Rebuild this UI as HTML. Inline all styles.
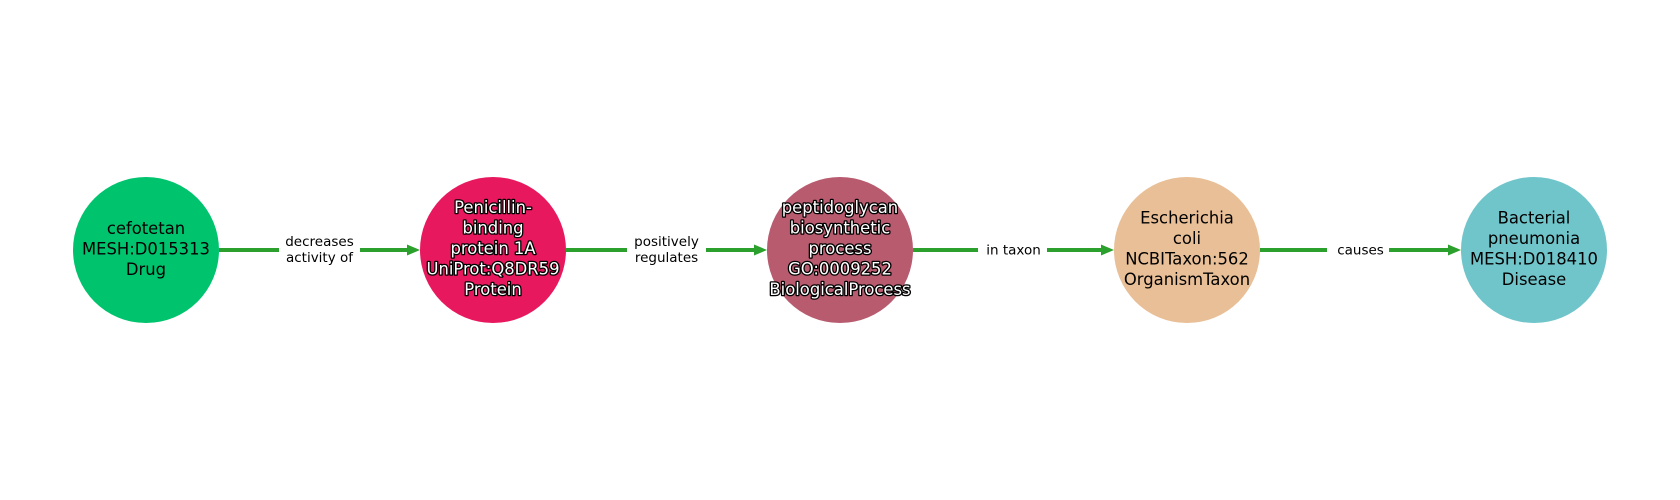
<!DOCTYPE html>
<html><head><meta charset="utf-8"><style>
html,body{margin:0;padding:0;background:#fff;}
svg{display:block;}
.n{font-family:"DejaVu Sans","Liberation Sans",sans-serif;font-size:16.4px;text-anchor:middle;fill:#000;}
.o{fill:#fff;stroke:#000;stroke-width:2.6px;paint-order:stroke;stroke-linejoin:round;}
.e{font-family:"DejaVu Sans","Liberation Sans",sans-serif;font-size:13.5px;text-anchor:middle;fill:#000;}
</style></head><body>
<svg width="1680" height="500" viewBox="0 0 1680 500" xmlns="http://www.w3.org/2000/svg">
<g stroke="#2ca02c" stroke-width="4">
<line x1="219" y1="250" x2="410" y2="250"/>
<line x1="566" y1="250" x2="757" y2="250"/>
<line x1="913" y1="250" x2="1104" y2="250"/>
<line x1="1260" y1="250" x2="1451" y2="250"/>
</g>
<g fill="#2ca02c">
<polygon points="420,250 407,244.5 407,255.5"/>
<polygon points="767,250 754,244.5 754,255.5"/>
<polygon points="1114,250 1101,244.5 1101,255.5"/>
<polygon points="1461,250 1448,244.5 1448,255.5"/>
</g>
<g fill="#fff">
<rect x="279" y="231" width="81" height="36"/>
<rect x="627" y="231" width="79" height="36"/>
<rect x="978" y="241" width="69" height="18"/>
<rect x="1327" y="241" width="62" height="18"/>
</g>
<text class="e" x="319.5" y="246">decreases</text>
<text class="e" x="319.5" y="262">activity of</text>
<text class="e" x="666.5" y="246">positively</text>
<text class="e" x="666.5" y="262">regulates</text>
<text class="e" x="1013.5" y="254.5">in taxon</text>
<text class="e" x="1360.5" y="254.5">causes</text>

<circle cx="146" cy="250" r="73" fill="#00c36e"/>
<circle cx="493" cy="250" r="73" fill="#e8185f"/>
<circle cx="840" cy="250" r="73" fill="#b85b6e"/>
<circle cx="1187" cy="250" r="73" fill="#e8bf97"/>
<circle cx="1534" cy="250" r="73" fill="#70c5cb"/>

<text class="n" x="146" y="234">cefotetan</text>
<text class="n" x="146" y="254.5">MESH:D015313</text>
<text class="n" x="146" y="275">Drug</text>

<text class="n o" x="493" y="213">Penicillin-</text>
<text class="n o" x="493" y="233.5">binding</text>
<text class="n o" x="493" y="254">protein 1A</text>
<text class="n o" x="493" y="274.5">UniProt:Q8DR59</text>
<text class="n o" x="493" y="295">Protein</text>

<text class="n o" x="840" y="213">peptidoglycan</text>
<text class="n o" x="840" y="233.5">biosynthetic</text>
<text class="n o" x="840" y="254">process</text>
<text class="n o" x="840" y="274.5">GO:0009252</text>
<text class="n o" x="840" y="295">BiologicalProcess</text>

<text class="n" x="1187" y="223.5">Escherichia</text>
<text class="n" x="1187" y="244">coli</text>
<text class="n" x="1187" y="264.5">NCBITaxon:562</text>
<text class="n" x="1187" y="285">OrganismTaxon</text>

<text class="n" x="1534" y="223.5">Bacterial</text>
<text class="n" x="1534" y="244">pneumonia</text>
<text class="n" x="1534" y="264.5">MESH:D018410</text>
<text class="n" x="1534" y="285">Disease</text>
</svg>
</body></html>
